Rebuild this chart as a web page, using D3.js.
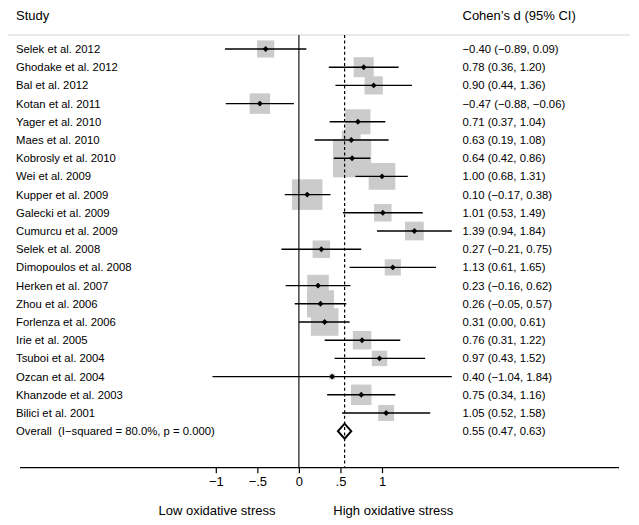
<!DOCTYPE html>
<html>
<head>
<meta charset="utf-8">
<script src="https://cdn.jsdelivr.net/npm/d3@7"></script>
<style>
  html, body { margin: 0; padding: 0; background: #fff; }
  svg { display: block; font-family: "Liberation Sans", Arial, Helvetica, sans-serif; }
  svg text { white-space: pre; }
</style>
</head>
<body>
<svg id="chart" width="639" height="525"></svg>
<script>
const studies = ["Selek et al. 2012","Ghodake et al. 2012","Bal et al. 2012","Kotan et al. 2011","Yager et al. 2010","Maes et al. 2010","Kobrosly et al. 2010","Wei et al. 2009","Kupper et al. 2009","Galecki et al. 2009","Cumurcu et al. 2009","Selek et al. 2008","Dimopoulos et al. 2008","Herken et al. 2007","Zhou et al. 2006","Forlenza et al. 2006","Irie et al. 2005","Tsuboi et al. 2004","Ozcan et al. 2004","Khanzode et al. 2003","Bilici et al. 2001"];
const effects = [-0.40,0.78,0.90,-0.47,0.71,0.63,0.64,1.00,0.10,1.01,1.39,0.27,1.13,0.23,0.26,0.31,0.76,0.97,0.40,0.75,1.05];
const lowers  = [-0.89,0.36,0.44,-0.88,0.37,0.19,0.42,0.68,-0.17,0.53,0.94,-0.21,0.61,-0.16,-0.05,0.00,0.31,0.43,-1.04,0.34,0.52];
const uppers  = [0.09,1.20,1.36,-0.06,1.04,1.08,0.86,1.31,0.38,1.49,1.84,0.75,1.65,0.62,0.57,0.61,1.22,1.52,1.84,1.16,1.58];
const weights = [2.94,4.00,3.33,4.20,6.29,3.56,14.58,7.12,9.33,3.06,3.49,3.06,2.61,4.64,7.34,7.59,3.41,2.38,0.34,4.20,2.51];
const overallLabel = "Overall  (I\u2212squared = 80.0%, p = 0.000)";
const overallEffect = 0.55, overallLower = 0.47, overallUpper = 0.63;
const tickValues = [-1,-0.5,0,0.5,1];
const tickLabels = ["\u22121","\u2212.5","0",".5","1"];
const headerLeft = "Study", headerRight = "Cohen\u2019s d (95% CI)";
const lowLabel = "Low oxidative stress", highLabel = "High oxidative stress";

const svg = d3.select("#chart");
const x = d3.scaleLinear().domain([-1, 1]).range([215.8, 382.0]);
const rows = studies.concat(["__overall"]);
const y = d3.scalePoint().domain(rows).range([49, 431.2]);
const side = d3.scaleSqrt().domain([0, 100]).range([0, 100]);
const fmt = d3.format(".2f");
const plotTop = 35, axisY = 467.7;

// header rule
svg.append("line").attr("x1", 8).attr("x2", 630).attr("y1", plotTop).attr("y2", plotTop)
  .attr("stroke", "#d6d6d6").attr("stroke-width", 1.2);
svg.append("text").attr("x", 16).attr("y", 20).attr("font-size", 13).text(headerLeft);
svg.append("text").attr("x", 462.5).attr("y", 20).attr("font-size", 13).text(headerRight);

// boxes
svg.append("g").selectAll("rect").data(studies).join("rect")
  .attr("x", (d, i) => x(effects[i]) - side(weights[i]) / 2)
  .attr("y", (d, i) => y(d) - side(weights[i]) / 2)
  .attr("width", (d, i) => side(weights[i]))
  .attr("height", (d, i) => side(weights[i]))
  .attr("fill", "#cbcbcb");

// zero line
svg.append("line").attr("x1", x(0)).attr("x2", x(0)).attr("y1", plotTop).attr("y2", axisY)
  .attr("stroke", "#000").attr("stroke-width", 1.1);
// overall dashed line
svg.append("line").attr("x1", x(overallEffect)).attr("x2", x(overallEffect)).attr("y1", plotTop).attr("y2", axisY)
  .attr("stroke", "#000").attr("stroke-width", 1.2).attr("stroke-dasharray", "3,2.6");

// CI lines
svg.append("g").selectAll("line").data(studies).join("line")
  .attr("x1", (d, i) => x(lowers[i])).attr("x2", (d, i) => x(uppers[i]))
  .attr("y1", d => y(d)).attr("y2", d => y(d))
  .attr("stroke", "#000").attr("stroke-width", 1.4);

// point markers
svg.append("g").selectAll("path").data(studies).join("path")
  .attr("d", d3.symbol().type(d3.symbolDiamond2).size(22))
  .attr("transform", (d, i) => `translate(${x(effects[i])},${y(d)})`)
  .attr("fill", "#000");

// overall diamond
const oy = y("__overall"), oh = 7.5;
svg.append("path")
  .attr("d", `M${x(overallLower)},${oy} L${x(overallEffect)},${oy - oh} L${x(overallUpper)},${oy} L${x(overallEffect)},${oy + oh} Z`)
  .attr("fill", "none").attr("stroke", "#000").attr("stroke-width", 2);

// study labels
svg.append("g").selectAll("text").data(studies).join("text")
  .attr("x", 16).attr("y", d => y(d)).attr("dy", "0.36em")
  .attr("font-size", 11.3).text(d => d);
svg.append("text").attr("x", 16).attr("y", oy).attr("dy", "0.36em")
  .attr("xml:space", "preserve")
  .attr("font-size", 11.3).text(overallLabel);

// value labels
svg.append("g").selectAll("text").data(studies).join("text")
  .attr("x", 462.5).attr("y", d => y(d)).attr("dy", "0.36em")
  .attr("font-size", 11.3)
  .text((d, i) => `${fmt(effects[i])} (${fmt(lowers[i])}, ${fmt(uppers[i])})`);
svg.append("text").attr("x", 462.5).attr("y", oy).attr("dy", "0.36em")
  .attr("font-size", 11.3)
  .text(`${fmt(overallEffect)} (${fmt(overallLower)}, ${fmt(overallUpper)})`);

// x axis
svg.append("line").attr("x1", 20).attr("x2", 619).attr("y1", axisY).attr("y2", axisY)
  .attr("stroke", "#000").attr("stroke-width", 1.3);
const axis = d3.axisBottom(x).tickValues(tickValues).tickSize(5.5).tickPadding(4)
  .tickFormat((d, i) => tickLabels[i]);
const ag = svg.append("g").attr("transform", `translate(0,${axisY})`).call(axis);
ag.select(".domain").remove();
ag.selectAll(".tick line").attr("stroke", "#000").attr("stroke-width", 1.2);
ag.selectAll(".tick text").attr("font-size", 13).attr("fill", "#000")
  .attr("font-family", "'Liberation Sans', Arial, Helvetica, sans-serif");

svg.append("text").attr("x", 217).attr("y", 515).attr("text-anchor", "middle").attr("font-size", 13).text(lowLabel);
svg.append("text").attr("x", 393.3).attr("y", 515).attr("text-anchor", "middle").attr("font-size", 13).text(highLabel);
</script>
</body>
</html>
